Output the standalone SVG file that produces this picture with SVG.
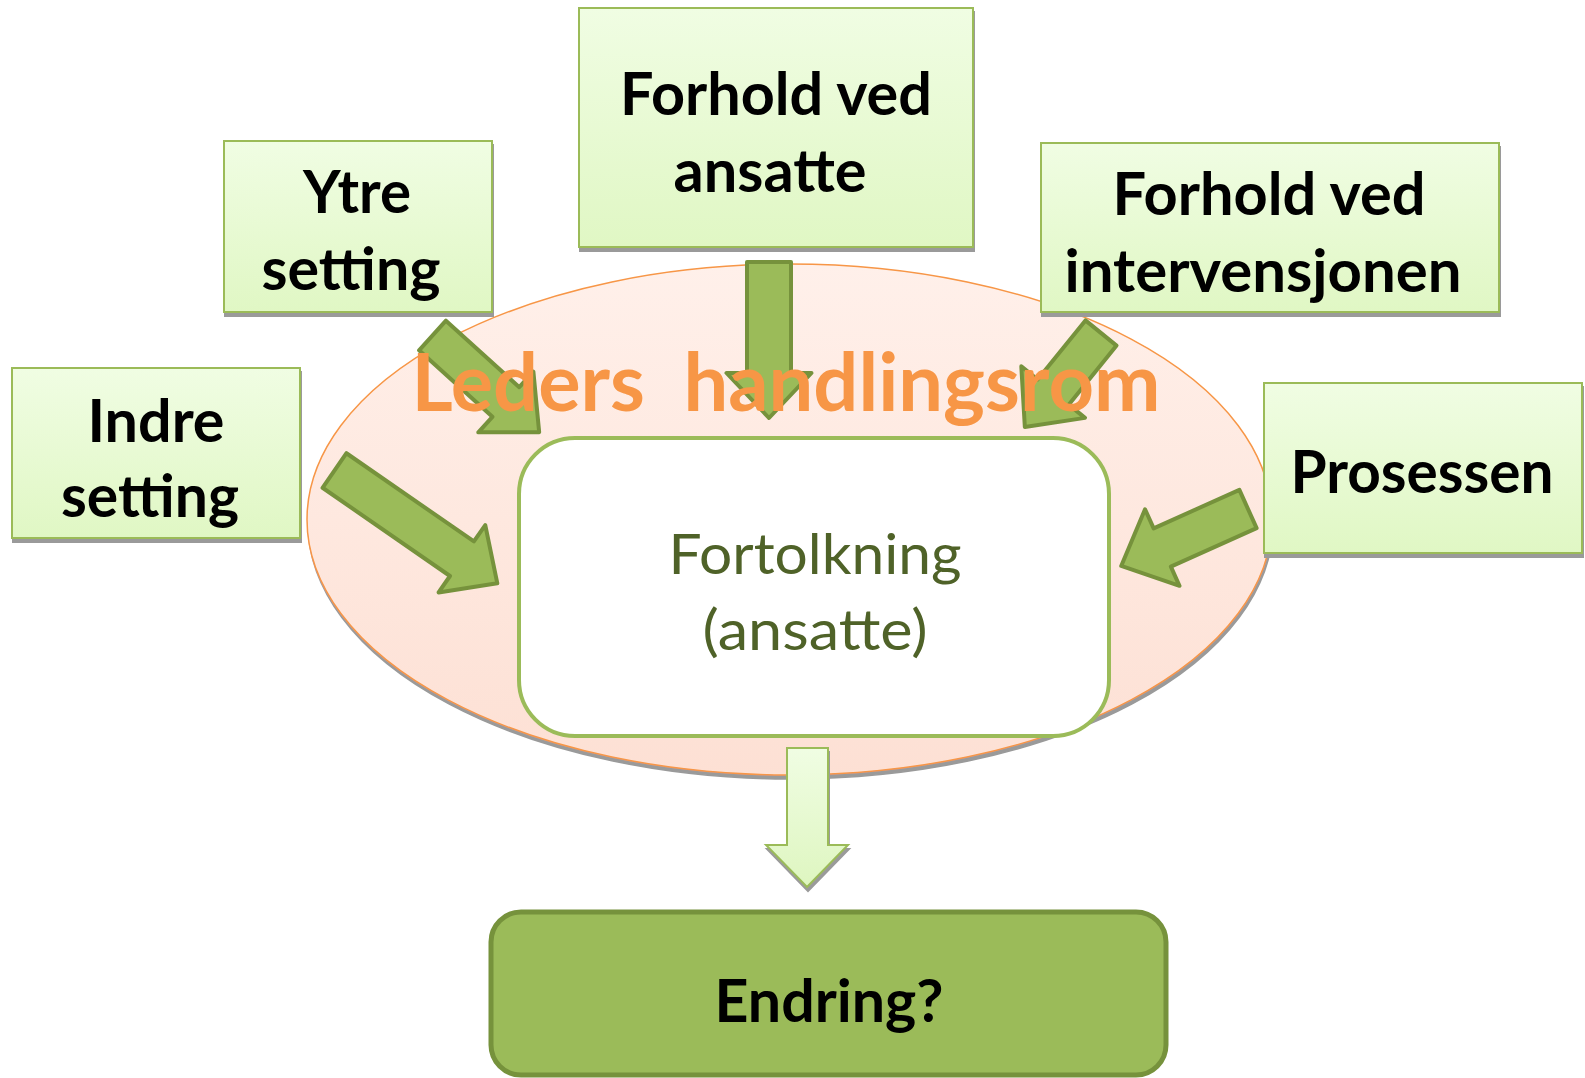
<svg xmlns="http://www.w3.org/2000/svg" width="1585" height="1078" viewBox="0 0 1585 1078">
  <defs>
    <linearGradient id="boxFill" x1="0" y1="0" x2="0" y2="1">
      <stop offset="0" stop-color="#f0fde3"/>
      <stop offset="1" stop-color="#e0f7c4"/>
    </linearGradient>
    <linearGradient id="ovalFill" x1="0" y1="0" x2="0" y2="1">
      <stop offset="0" stop-color="#fff0ea"/>
      <stop offset="1" stop-color="#fde0d4"/>
    </linearGradient>
    <linearGradient id="outFill" x1="0" y1="0" x2="0" y2="1">
      <stop offset="0" stop-color="#f0fde3"/>
      <stop offset="1" stop-color="#def6c0"/>
    </linearGradient>
    <filter id="shadow" x="-10%" y="-10%" width="120%" height="130%">
      <feOffset in="SourceAlpha" dx="1" dy="4" result="off"/>
      <feGaussianBlur in="off" stdDeviation="0.6" result="blur"/>
      <feFlood flood-color="#9a9a9a"/>
      <feComposite in2="blur" operator="in" result="shade"/>
      <feMerge><feMergeNode in="shade"/><feMergeNode in="SourceGraphic"/></feMerge>
    </filter>
  </defs>
  <style>
    .box { fill: url(#boxFill); stroke: #9bbb59; stroke-width: 2; filter: url(#shadow); }
    .lbl { font-family: Lato, "Liberation Sans", sans-serif; font-weight: bold; font-size: 60px; fill: #000; text-anchor: middle; }
    .arrow { fill: #9bbb59; stroke: #76923c; stroke-width: 4; stroke-linejoin: round; }
    .inner { font-family: Lato, "Liberation Sans", sans-serif; font-size: 57px; fill: #4f6228; text-anchor: middle; }
  </style>
  <rect width="1585" height="1078" fill="#fff"/>

  <!-- action space oval -->
  <g id="handlingsrom">
    <ellipse cx="789.5" cy="519.5" rx="482.5" ry="255.5" fill="url(#ovalFill)" stroke="#f79646" stroke-width="1.5" filter="url(#shadow)"/>
  </g>

  <!-- interpretation box -->
  <g id="fortolkning">
    <rect x="519" y="438" width="590" height="298" rx="56" ry="56" fill="#fff" stroke="#9bbb59" stroke-width="4"/>
    <text class="inner" x="815" y="574" textLength="293" lengthAdjust="spacingAndGlyphs">Fortolkning</text>
    <text class="inner" x="815" y="650" textLength="225" lengthAdjust="spacingAndGlyphs">(ansatte)</text>
  </g>

  <!-- factor boxes -->
  <g id="forhold-ansatte">
    <rect class="box" x="579" y="8" width="394" height="239"/>
    <text class="lbl" x="776" y="115" textLength="312" lengthAdjust="spacingAndGlyphs">Forhold ved</text>
    <text class="lbl" x="770" y="192" textLength="193" lengthAdjust="spacingAndGlyphs">ansatte</text>
  </g>
  <g id="ytre-setting">
    <rect class="box" x="224" y="141" width="268" height="171"/>
    <text class="lbl" x="357" y="213" textLength="108" lengthAdjust="spacingAndGlyphs">Ytre</text>
    <text class="lbl" x="351" y="290" textLength="179" lengthAdjust="spacingAndGlyphs">setting</text>
  </g>
  <g id="indre-setting">
    <rect class="box" x="12" y="368" width="288" height="170"/>
    <text class="lbl" x="156" y="442" textLength="137" lengthAdjust="spacingAndGlyphs">Indre</text>
    <text class="lbl" x="150" y="517" textLength="178" lengthAdjust="spacingAndGlyphs">setting</text>
  </g>
  <g id="forhold-intervensjonen">
    <rect class="box" x="1041" y="143" width="458" height="169"/>
    <text class="lbl" x="1269" y="215" textLength="313" lengthAdjust="spacingAndGlyphs">Forhold ved</text>
    <text class="lbl" x="1263" y="292" textLength="397" lengthAdjust="spacingAndGlyphs">intervensjonen</text>
  </g>
  <g id="prosessen">
    <rect class="box" x="1264" y="383" width="318" height="170"/>
    <text class="lbl" x="1422" y="493" textLength="263" lengthAdjust="spacingAndGlyphs">Prosessen</text>
  </g>

  <!-- block arrows -->
  <g id="connectors">
    <path class="arrow" transform="translate(769,262) rotate(90)" d="M0,-22 H111 V-42.5 L156,0 L111,42.5 V22 H0 Z"/>
    <path class="arrow" transform="translate(432.5,335.5) rotate(42.2)" d="M0,-20 H99 V-41 L144,0 L99,41 V20 H0 Z"/>
    <path class="arrow" transform="translate(334.5,470.5) rotate(34.7)" d="M0,-21 H155 V-41 L198,0 L155,41 V21 H0 Z"/>
    <path class="arrow" transform="translate(1101,333) rotate(129)" d="M0,-20 H76 V-41 L121,0 L76,41 V20 H0 Z"/>
    <path class="arrow" transform="translate(1248,509) rotate(155.8)" d="M0,-21 H94 V-42 L139,0 L94,42 V21 H0 Z"/>
    <polygon points="787,748 828,748 828,845 848,845 807,887 766,845 787,845" fill="url(#outFill)" stroke="#9bbb59" stroke-width="2" filter="url(#shadow)"/>
  </g>

  <g id="handlingsrom-label">
    <text x="786" y="411" font-family="Lato, 'Liberation Sans', sans-serif" font-weight="bold" font-size="80" fill="#f79646" text-anchor="middle" textLength="749" lengthAdjust="spacingAndGlyphs" xml:space="preserve">Leders  handlingsrom</text>
  </g>

  <!-- outcome -->
  <g id="endring">
    <rect x="491" y="912" width="675" height="163" rx="30" ry="30" fill="#9bbb59" stroke="#76923c" stroke-width="5"/>
    <text class="lbl" x="829" y="1022" textLength="229" lengthAdjust="spacingAndGlyphs">Endring?</text>
  </g>
</svg>
